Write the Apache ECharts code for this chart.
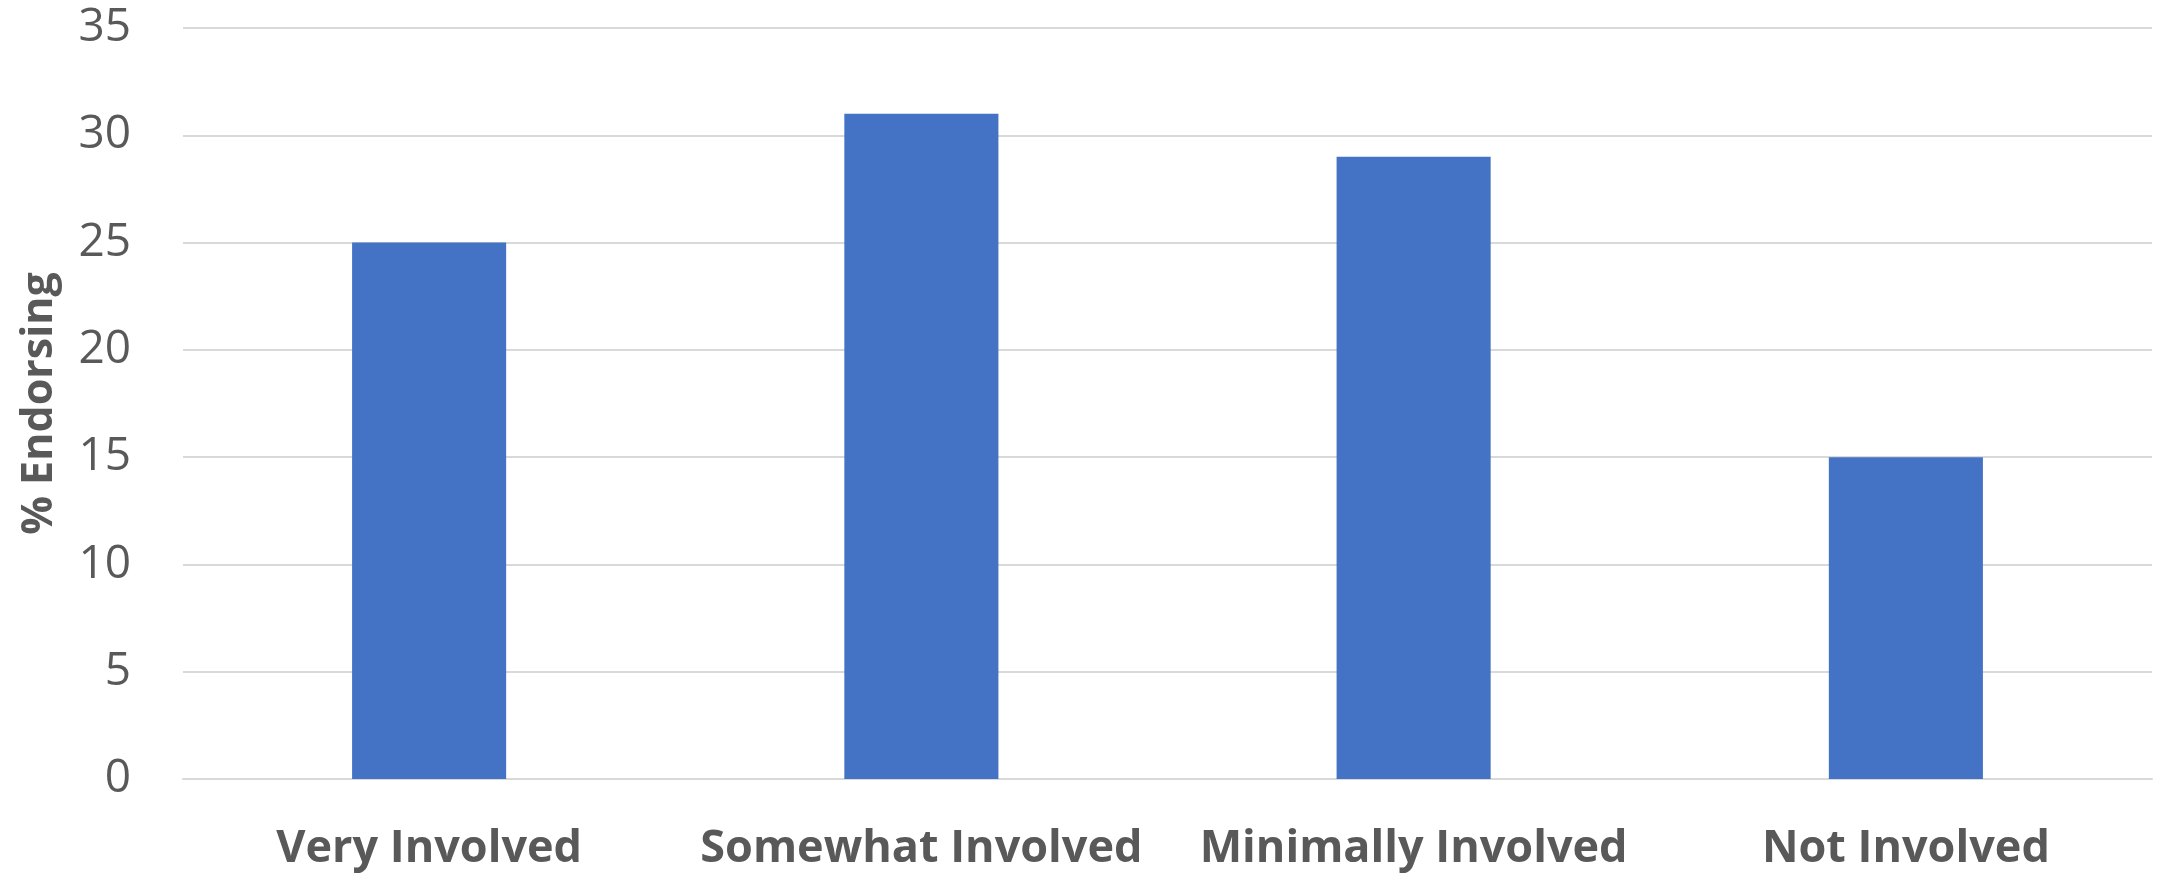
<!DOCTYPE html>
<html>
<head>
<meta charset="utf-8">
<script src="https://cdn.jsdelivr.net/npm/echarts@6/dist/echarts.min.js"></script>
<style>
  html, body { margin: 0; padding: 0; background: #ffffff; }
  #chart { width: 2163px; height: 873px; }
</style>
</head>
<body>
<div id="chart"></div>
<script>
// Share of respondents endorsing, by level of involvement
const categories = ['Very Involved', 'Somewhat Involved', 'Minimally Involved', 'Not Involved'];
const endorsing = [25, 31, 29, 15];
const yAxisTitle = '% Endorsing';

const textColor = '#595959';
const fontFamily = '"Open Sans", "Noto Sans", sans-serif';

const chart = echarts.init(document.getElementById('chart'), null, { renderer: 'canvas' });
chart.setOption({
  animation: false,
  backgroundColor: '#ffffff',
  grid: {
    left: 183, right: 11, top: 28, bottom: 94,
    containLabel: false,
    outerBoundsMode: 'none'
  },
  xAxis: {
    type: 'category',
    data: categories,
    axisLine: { show: true, lineStyle: { color: '#d9d9d9', width: 2 } },
    axisTick: { show: false },
    axisLabel: {
      interval: 0,
      hideOverlap: false,
      color: textColor,
      fontFamily: fontFamily,
      fontWeight: 'bold',
      fontSize: 45,
      margin: 48
    }
  },
  yAxis: {
    type: 'value',
    min: 0,
    max: 35,
    interval: 5,
    name: yAxisTitle,
    nameLocation: 'middle',
    nameGap: 122,
    nameRotate: 90,
    nameTextStyle: {
      color: textColor,
      fontFamily: fontFamily,
      fontWeight: 'bold',
      fontSize: 43
    },
    axisLine: { show: false },
    axisTick: { show: false },
    splitLine: { lineStyle: { color: '#d9d9d9', width: 2 } },
    axisLabel: {
      color: textColor,
      fontFamily: fontFamily,
      fontSize: 46,
      margin: 52
    }
  },
  series: [{
    type: 'bar',
    data: endorsing,
    barWidth: '31.3%',
    itemStyle: { color: '#4472C4' }
  }]
});
</script>
</body>
</html>
